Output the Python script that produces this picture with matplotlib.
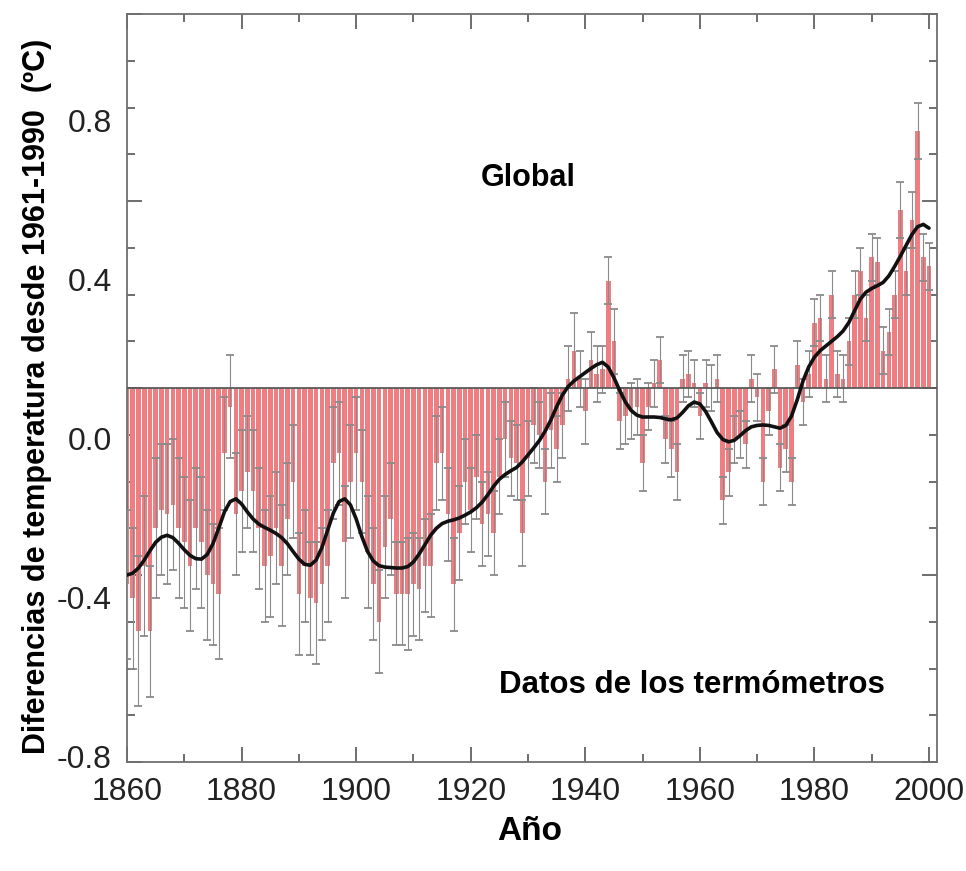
import numpy as np
import matplotlib
matplotlib.use("Agg")
import matplotlib.pyplot as plt
from matplotlib.ticker import MultipleLocator

plt.rcParams['font.family'] = ['Liberation Sans', 'DejaVu Sans']

# annual global anomalies (degC, relative to 1961-1990)
years = np.arange(1860, 2001)
anomaly = [
    -0.42, -0.45, -0.52, -0.38, -0.52, -0.30, -0.26, -0.27, -0.25, -0.30,   # 1860s
    -0.33, -0.38, -0.30, -0.33, -0.40, -0.42, -0.44, -0.14, -0.04, -0.27,   # 1870s
    -0.22, -0.18, -0.22, -0.30, -0.38, -0.36, -0.30, -0.38, -0.28, -0.20,   # 1880s
    -0.44, -0.38, -0.45, -0.46, -0.42, -0.38, -0.16, -0.14, -0.33, -0.20,   # 1890s
    -0.14, -0.20, -0.35, -0.42, -0.50, -0.34, -0.28, -0.44, -0.44, -0.44,   # 1900s
    -0.42, -0.43, -0.38, -0.38, -0.16, -0.14, -0.27, -0.42, -0.31, -0.20,   # 1910s
    -0.26, -0.19, -0.29, -0.27, -0.31, -0.19, -0.11, -0.15, -0.16, -0.31,   # 1920s
    -0.15, -0.08, -0.10, -0.20, -0.09, -0.13, -0.08, 0.02, 0.08, 0.02,      # 1930s
    -0.05, 0.06, 0.03, 0.04, 0.23, 0.10, -0.07, -0.06, -0.05, -0.04,        # 1940s
    -0.16, -0.04, 0.01, 0.06, -0.11, -0.13, -0.18, 0.02, 0.03, 0.01,        # 1950s
    -0.06, 0.01, 0.00, 0.02, -0.24, -0.18, -0.11, -0.10, -0.12, 0.02,       # 1960s
    -0.02, -0.20, -0.05, 0.04, -0.17, -0.13, -0.20, 0.05, -0.03, 0.03,      # 1970s
    0.14, 0.15, 0.02, 0.20, 0.03, 0.02, 0.10, 0.20, 0.25, 0.15,             # 1980s
    0.28, 0.27, 0.08, 0.12, 0.20, 0.38, 0.25, 0.36, 0.55, 0.28, 0.26,       # 1990-2000
]
# 2-sigma uncertainty (half length of error bars)
uncert = [
    0.16, 0.15, 0.16, 0.15, 0.14, 0.15, 0.14, 0.15, 0.14, 0.15,
    0.14, 0.14, 0.13, 0.14, 0.14, 0.13, 0.14, 0.12, 0.11, 0.13,
    0.13, 0.12, 0.13, 0.13, 0.12, 0.13, 0.12, 0.13, 0.12, 0.12,
    0.13, 0.12, 0.12, 0.13, 0.12, 0.12, 0.12, 0.11, 0.12, 0.12,
    0.12, 0.11, 0.12, 0.12, 0.11, 0.11, 0.12, 0.11, 0.11, 0.12,
    0.11, 0.11, 0.10, 0.11, 0.10, 0.10, 0.10, 0.10, 0.10, 0.09,
    0.09, 0.09, 0.09, 0.09, 0.09, 0.08, 0.08, 0.08, 0.08, 0.07,
    0.08, 0.08, 0.07, 0.07, 0.08, 0.07, 0.07, 0.07, 0.08, 0.06,
    0.07, 0.06, 0.06, 0.05, 0.05, 0.07, 0.06, 0.06, 0.06, 0.06,
    0.06, 0.05, 0.05, 0.05, 0.05, 0.06, 0.06, 0.05, 0.05, 0.05,
    0.05, 0.05, 0.05, 0.05, 0.05, 0.05, 0.05, 0.05, 0.05, 0.05,
    0.05, 0.05, 0.05, 0.05, 0.05, 0.05, 0.05, 0.05, 0.05, 0.05,
    0.05, 0.05, 0.05, 0.05, 0.05, 0.05, 0.05, 0.05, 0.05, 0.05,
    0.05, 0.05, 0.05, 0.05, 0.05, 0.06, 0.05, 0.06, 0.06, 0.05, 0.05,
]

# smoothed curve (one value per year)
smooth_values = [
    -0.400, -0.396, -0.385, -0.368, -0.348, -0.330, -0.319, -0.315, -0.320, -0.332,
    -0.346, -0.358, -0.365, -0.366, -0.356, -0.333, -0.300, -0.265, -0.243, -0.237,
    -0.248, -0.265, -0.280, -0.291, -0.298, -0.304, -0.311, -0.320, -0.333, -0.350,
    -0.366, -0.377, -0.379, -0.368, -0.342, -0.305, -0.268, -0.243, -0.237, -0.250,
    -0.280, -0.318, -0.350, -0.370, -0.380, -0.383, -0.384, -0.385, -0.385, -0.382,
    -0.372, -0.355, -0.335, -0.315, -0.300, -0.290, -0.285, -0.282, -0.278, -0.272,
    -0.265, -0.256, -0.244, -0.228, -0.210, -0.195, -0.185, -0.177, -0.170, -0.158,
    -0.143, -0.128, -0.112, -0.092, -0.068, -0.040, -0.015, 0.003, 0.015, 0.024,
    0.033, 0.042, 0.050, 0.055, 0.045, 0.022, -0.005, -0.030, -0.048, -0.058,
    -0.062, -0.062, -0.062, -0.063, -0.066, -0.068, -0.064, -0.052, -0.038, -0.030,
    -0.034, -0.050, -0.072, -0.095, -0.110, -0.115, -0.112, -0.102, -0.091, -0.083,
    -0.080, -0.079, -0.080, -0.083, -0.086, -0.080, -0.060, -0.025, 0.015, 0.045,
    0.066, 0.080, 0.090, 0.100, 0.110, 0.122, 0.140, 0.165, 0.190, 0.205,
    0.213, 0.219, 0.226, 0.240, 0.260, 0.282, 0.305, 0.328, 0.345, 0.350, 0.342,
]

year_ticks = [1860, 1880, 1900, 1920, 1940, 1960, 1980, 2000]
value_ticks = [-0.8, -0.4, 0.0, 0.4, 0.8]

# the printed labels sit off the tick marks in the original figure
label_scale = 0.851
label_offset = -0.108


def to_label(y):
    return (y - label_offset) / label_scale


def from_label(v):
    return v * label_scale + label_offset


fig = plt.figure(figsize=(9.66, 8.71), dpi=100)
ax = fig.add_axes([0.1315, 0.1251, 0.8385, 0.8588])

ax.bar(years, anomaly, width=0.8, color='#ef7e83', edgecolor='none', zorder=2)
eb = ax.errorbar(years, anomaly, yerr=uncert, fmt='none', ecolor='#8a8a8a',
                 elinewidth=0.8, capsize=3, capthick=1.3, zorder=3)
for cap in eb[1]:
    cap.set_color('#222222')

ax.axhline(0, color='#5a5a5a', lw=1.3, zorder=4)
ax.plot(years, smooth_values, color='#111111', lw=2.6, zorder=5,
        solid_joinstyle='round', solid_capstyle='round')

ax.set_xlim(1860, 2001.4)
ax.set_ylim(-0.8, 0.8)

ax.set_xticks(year_ticks)
ax.xaxis.set_minor_locator(MultipleLocator(10))
ax.set_yticks(value_ticks)
ax.yaxis.set_minor_locator(MultipleLocator(0.1))
ax.tick_params(axis='both', which='both', direction='in', top=True, right=True,
               color='#555555', width=1.2)
ax.tick_params(axis='both', which='major', length=11)
ax.tick_params(axis='both', which='minor', length=6)
ax.tick_params(axis='x', labelsize=23, pad=11, labelcolor='#222222')
ax.tick_params(axis='y', labelleft=False)

for sp in ax.spines.values():
    sp.set_color('#707070')
    sp.set_linewidth(1.3)

sec = ax.secondary_yaxis('left', functions=(to_label, from_label))
sec.set_yticks(value_ticks)
sec.set_yticklabels(['-0.8', '-0.4', '0.0', '0.4', '0.8'])
sec.tick_params(length=0, labelsize=23, pad=11, labelcolor='#222222')
sec.spines['left'].set_visible(False)

ax.set_ylabel('Diferencias de temperatura desde 1961-1990  (ºC)', fontsize=22,
              fontweight='bold')
ax.yaxis.set_label_coords(-0.093, 0.489)
ax.set_xlabel('Año', fontsize=24, fontweight='bold')
ax.xaxis.set_label_coords(0.4975, -0.072)

ax.text(0.495, 0.781, 'Global', transform=ax.transAxes, ha='center', va='center',
        fontsize=22, fontweight='bold')
ax.text(0.698, 0.103, 'Datos de los termómetros', transform=ax.transAxes,
        ha='center', va='center', fontsize=22.5, fontweight='bold')

fig.savefig('out.png', dpi=100)
